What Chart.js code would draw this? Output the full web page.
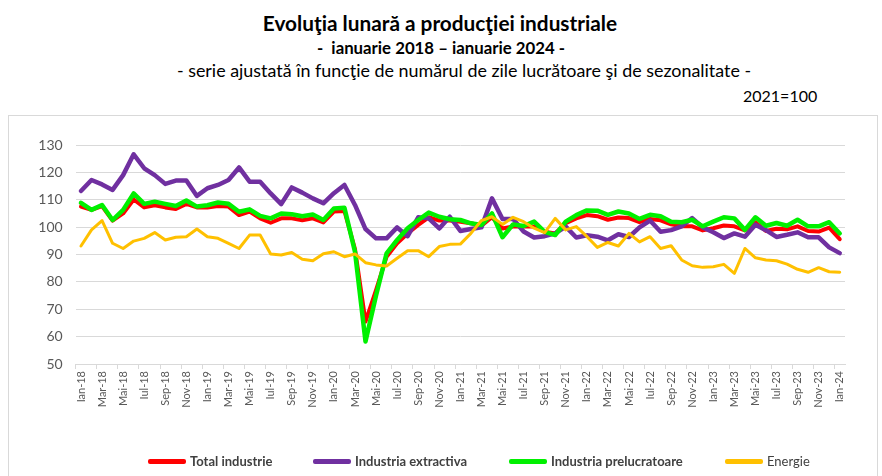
<!DOCTYPE html>
<html>
<head>
<meta charset="utf-8">
<script src="https://cdn.jsdelivr.net/npm/chart.js@4.4.1/dist/chart.umd.min.js"></script>
<style>
  html, body { margin: 0; padding: 0; background: #fff; }
  body { width: 882px; height: 476px; position: relative; overflow: hidden; font-family: Lato, "Open Sans", sans-serif; color: #000; }
  .t { position: absolute; left: 0; width: 882px; text-align: center; white-space: nowrap; line-height: 1.2; }
  #t1 { top: 11px; font-size: 20.8px; font-weight: bold; left: -1px; }
  #t2 { top: 38px; font-size: 16.8px; font-weight: bold; }
  #t3 { top: 60px; font-size: 17.9px; left: 23px; }
  #t4 { position: absolute; top: 86px; left: 743px; font-size: 16px; line-height: 1.2; }
  #frame { position: absolute; left: 8px; top: 115px; width: 870px; height: 365px; border: 1px solid #d9d9d9; box-sizing: border-box; }
  #wrap { position: absolute; left: 0; top: 0; width: 882px; height: 476px; }
  #legend { position: absolute; top: 452px; left: 0; width: 882px; height: 20px; font-size: 13px; color: #404040; }
  .li { position: absolute; top: 0; display: flex; align-items: center; height: 18px; white-space: nowrap; }
  .sw { display: inline-block; width: 38px; height: 5px; border-radius: 2px; margin-right: 4px; }
</style>
</head>
<body>
<div id="frame"></div>
<div class="t" id="t1">Evoluţia lunară a producţiei industriale</div>
<div class="t" id="t2">-&nbsp; ianuarie 2018 – ianuarie 2024 -</div>
<div class="t" id="t3">- serie ajustată în funcţie de numărul de zile lucrătoare şi de sezonalitate -</div>
<div id="t4">2021=100</div>
<div id="wrap"><canvas id="c" width="882" height="476"></canvas></div>
<div id="legend"></div>
<script>
const monthNames = ["Ian","Feb","Mar","Apr","Mai","Iun","Iul","Aug","Sep","Oct","Nov","Dec"];
const years = ["18","19","20","21","22","23","24"];
const categories = [];
for (const y of years) for (const m of monthNames) { if (categories.length < 73) categories.push(m + "-" + y); }

const totalIndustrie = [
  107.5,106.3,107.7,102.4,105.0,110.1,107.2,108.0,107.2,106.6,108.5,107.2,
  107.2,107.7,107.5,104.4,105.7,103.2,101.6,103.2,103.2,102.5,103.2,101.7,
  105.7,105.9,92.0,65.5,77.0,89.2,94.1,97.7,100.8,103.6,102.4,102.4,
  102.0,101.4,100.5,103.6,99.5,100.2,100.2,100.2,98.3,97.7,101.4,103.2,
  104.4,104.0,102.7,103.5,103.3,101.8,103.0,102.5,101.0,100.3,100.3,98.8,
  99.6,100.6,100.3,98.8,101.8,98.6,99.4,99.2,100.3,98.6,98.4,99.8,
  95.6
];
const industriaExtractiva = [
  113.2,117.2,115.6,113.6,119.0,126.6,121.5,119.0,115.8,117.0,117.0,111.4,
  114.2,115.4,117.2,121.8,116.6,116.6,112.3,108.4,114.5,112.6,110.5,108.7,
  112.4,115.4,108.1,99.3,95.9,95.9,99.9,96.7,103.6,103.2,99.5,103.8,
  98.6,99.3,99.9,110.5,103.0,103.0,98.4,96.2,96.7,97.7,100.2,96.2,
  97.0,96.5,95.2,97.4,96.4,99.9,102.4,98.3,98.9,100.3,103.3,99.9,
  98.1,96.0,97.7,96.5,100.9,98.9,96.4,97.2,98.1,96.3,96.3,92.6,
  90.5
];
const industriaPrelucratoare = [
  108.9,106.3,108.1,102.6,106.3,112.3,108.5,109.3,108.5,107.7,109.7,107.5,
  108.0,109.0,108.5,105.6,106.5,104.1,103.2,105.0,104.7,104.0,104.6,102.6,
  106.8,107.1,91.0,58.2,75.0,90.4,95.3,99.6,102.6,105.3,103.8,102.9,
  102.6,101.4,100.8,105.0,96.3,101.0,100.4,102.0,98.3,97.1,102.0,104.4,
  106.1,106.0,104.5,105.7,105.0,103.0,104.5,104.0,102.0,101.8,102.7,100.3,
  102.0,103.6,103.2,99.0,103.6,100.5,101.5,100.5,102.7,100.3,100.3,101.8,
  97.7
];
const energie = [
  93.1,99.0,102.4,94.1,92.2,94.9,95.9,98.0,95.3,96.3,96.5,99.3,
  96.5,95.9,94.1,92.2,97.1,97.1,90.2,89.8,90.7,88.3,87.7,90.3,
  91.0,89.2,90.2,87.0,86.2,85.8,88.6,91.4,91.4,89.2,92.9,93.7,
  93.8,97.7,102.4,103.8,101.0,103.6,102.0,99.6,98.0,103.2,99.0,100.2,
  96.6,92.6,94.4,93.1,97.7,94.6,96.5,92.2,93.2,88.0,85.9,85.3,
  85.5,86.4,83.1,92.2,88.8,88.0,87.7,86.5,84.6,83.5,85.2,83.7,
  83.5
];
const yTicks = [50,60,70,80,90,100,110,120,130];

const seriesNames = ["Total industrie","Industria extractiva","Industria prelucratoare","Energie"];
const seriesColors = ["#ff0000","#7030a0","#00f000","#ffc000"];
const seriesWidths = [4,4.5,4.5,3];
const seriesBold = [true,true,true,false];
const legendX = [148,313,509,725];
const allData = [totalIndustrie, industriaExtractiva, industriaPrelucratoare, energie];
const drawOrder = [4,3,2,1];

const datasets = allData.map((d,i) => ({
  label: seriesNames[i], data: d, borderColor: seriesColors[i], backgroundColor: seriesColors[i],
  borderWidth: seriesWidths[i], pointRadius: 0, tension: 0, order: drawOrder[i],
  borderJoinStyle: 'round', borderCapStyle: 'round', fill: false
}));

new Chart(document.getElementById('c'), {
  type: 'line',
  data: { labels: categories, datasets },
  options: {
    responsive: false, animation: false, devicePixelRatio: 1,
    layout: { padding: { left: 35.7, top: 145, right: 37, bottom: 62 } },
    plugins: { legend: { display: false }, tooltip: { enabled: false }, title: { display: false } },
    scales: {
      x: {
        type: 'category', offset: true,
        grid: { offset: true, drawOnChartArea: false, drawTicks: true, tickLength: 5,
                color: ctx => (ctx.index % 2 === 0 ? '#d9d9d9' : 'rgba(0,0,0,0)') },
        border: { display: true, color: '#d9d9d9', width: 1 },
        ticks: { autoSkip: false, maxRotation: 90, minRotation: 90, padding: 2,
                 color: '#595959', font: { family: 'Lato', size: 11 },
                 callback: function(v, i) { return i % 2 === 0 ? categories[i] : ''; } },
        afterFit: s => { s.height = 50; }
      },
      y: {
        min: 50, max: 130,
        afterBuildTicks: s => { s.ticks = yTicks.map(v => ({ value: v })); },
        grid: { color: '#d9d9d9', drawTicks: false, lineWidth: 1 },
        border: { display: false },
        ticks: { padding: 13, color: '#595959', font: { family: 'Lato', size: 14 } },
        afterFit: s => { s.width = 40; }
      }
    }
  }
});

const lg = document.getElementById('legend');
seriesNames.forEach((n,i) => {
  const d = document.createElement('div');
  d.className = 'li';
  d.style.left = legendX[i] + 'px';
  d.innerHTML = '<span class="sw" style="background:' + seriesColors[i] + '"></span><span style="font-weight:' + (seriesBold[i] ? 'bold' : 'normal') + '">' + n + '</span>';
  lg.appendChild(d);
});
</script>
</body>
</html>
